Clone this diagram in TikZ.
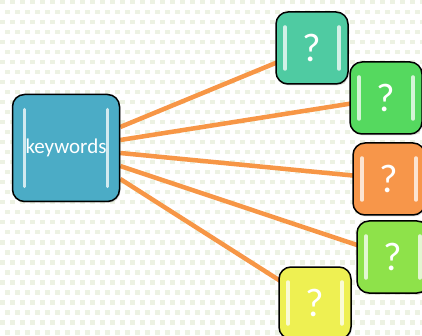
\documentclass[tikz,border=0pt]{standalone}
\usepackage{fontspec}
\setmainfont{Carlito}
\usetikzlibrary{backgrounds,shadows}
\definecolor{dotgreen}{HTML}{EDF2E3}
\definecolor{linkorange}{HTML}{F79646}
\definecolor{keyblue}{HTML}{4BACC6}
\definecolor{tealbox}{HTML}{4FCBA2}
\definecolor{greenbox}{HTML}{55D95F}
\definecolor{orangebox}{HTML}{F7964A}
\definecolor{limebox}{HTML}{8EE24A}
\definecolor{yellowbox}{HTML}{EEF052}

\begin{document}
\begin{tikzpicture}[x=1pt,y=-1pt,
  barshift/.store in=\barshift,barshift=9pt,
  tile/.style={draw=black,line width=1.5pt,rounded corners=12pt,minimum size=72pt,
    inner sep=0pt,text=white,font=\fontsize{40}{40}\selectfont,
    drop shadow={opacity=0.25,shadow xshift=1pt,shadow yshift=-1.5pt},
    path picture={
      \draw[white,opacity=0.75,line width=3.5pt,line cap=round]
        ([xshift=\barshift,yshift=-15pt]path picture bounding box.north west)
          -- ([xshift=\barshift,yshift=15pt]path picture bounding box.south west)
        ([xshift=-\barshift,yshift=-15pt]path picture bounding box.north east)
          -- ([xshift=-\barshift,yshift=15pt]path picture bounding box.south east);}},
  link/.style={draw=linkorange,line width=4.5pt}]
\useasboundingbox (0,0) rectangle (422,336);

% keyword box and the question tiles
\node[tile,barshift=12pt,fill=keyblue,minimum size=107pt,font=\fontsize{21}{21}\selectfont] (kw) at (66,148) {keywords};
\node[tile,fill=tealbox] (q1) at (312,48) {?};
\node[tile,fill=greenbox] (q2) at (386,98) {?};
\node[tile,fill=orangebox] (q3) at (389,179) {?};
\node[tile,fill=limebox] (q4) at (393,257) {?};
\node[tile,fill=yellowbox] (q5) at (315,303) {?};

\begin{scope}[on background layer]
% dotted paper
\fill[white] (0,0) rectangle (422,336);
\foreach \i in {0,...,42}
  \foreach \j in {0,...,34}
    \fill[dotgreen] ({\i*10+mod(\j,2)*5},{\j*10}) rectangle +(4.5,4.5);
% links
\draw[link] ([yshift=21pt]kw.east) -- (q1.center);
\draw[link] ([yshift=8pt]kw.east) -- (q2.center);
\draw[link] ([yshift=-5pt]kw.east) -- (q3.center);
\draw[link] ([yshift=-18pt]kw.east) -- (q4.center);
\draw[link] ([yshift=-31pt]kw.east) -- (q5.center);
\end{scope}
\end{tikzpicture}
\end{document}
